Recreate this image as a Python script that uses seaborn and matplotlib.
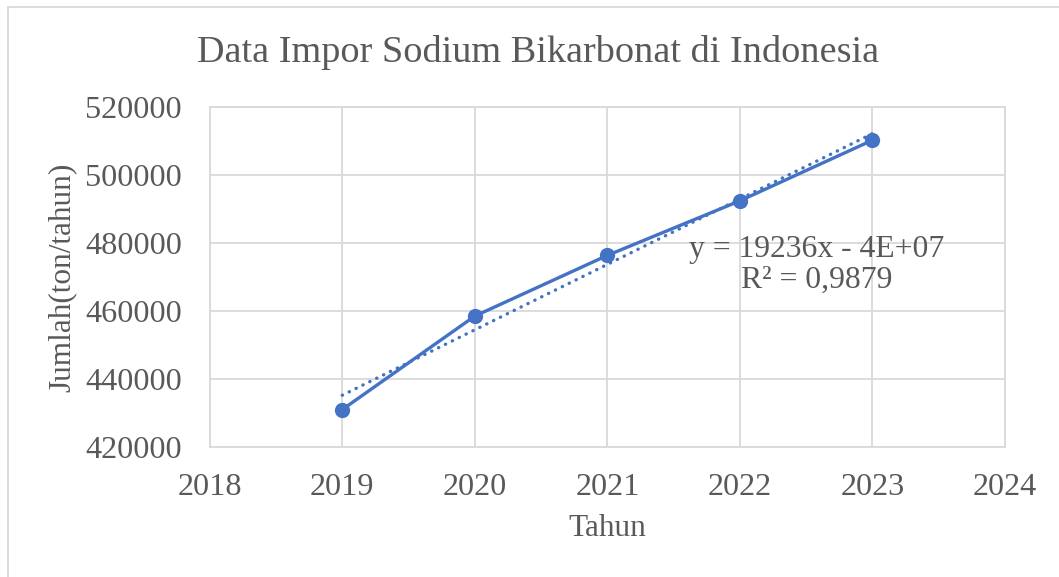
import numpy as np
import pandas as pd
import matplotlib.pyplot as plt
import seaborn as sns
from matplotlib.patches import Rectangle

tahun = [2019, 2020, 2021, 2022, 2023]
jumlah = [431000, 458500, 476350, 492400, 510230]
x_ticks = [2018, 2019, 2020, 2021, 2022, 2023, 2024]
y_ticks = [420000, 440000, 460000, 480000, 500000, 520000]

df = pd.DataFrame({"Tahun": tahun, "Jumlah": jumlah})

# linear trendline like Excel
slope, intercept = np.polyfit(df["Tahun"], df["Jumlah"], 1)
df["Trend"] = slope * df["Tahun"] + intercept
r2 = np.corrcoef(df["Tahun"], df["Jumlah"])[0, 1] ** 2

sns.set_style("white")
plt.rcParams["font.family"] = ["Liberation Serif", "DejaVu Serif"]
txt = "#595959"
grid = "#d9d9d9"
blue = "#4472C4"

fig = plt.figure(figsize=(10.59, 5.77), dpi=100)
ax = fig.add_axes([0.198, 0.2253, 0.751, 0.5893])

sns.lineplot(data=df, x="Tahun", y="Jumlah", ax=ax, color=blue, linewidth=2.4,
             marker="o", markersize=11, markeredgewidth=0)
sns.lineplot(data=df, x="Tahun", y="Trend", ax=ax, color=blue, linewidth=2.4,
             linestyle=(0, (0.1, 2.2)), dash_capstyle="round")

ax.set_xlim(2018, 2024)
ax.set_ylim(420000, 520000)
ax.set_xticks(x_ticks)
ax.set_yticks(y_ticks)
ax.grid(True, color=grid, linewidth=1.3)
ax.set_axisbelow(True)
for s in ax.spines.values():
    s.set_color(grid)
    s.set_linewidth(1.3)
ax.tick_params(length=0, labelsize=23.2, colors=txt)
ax.tick_params(axis="y", pad=20)
ax.tick_params(axis="x", pad=19)

ax.set_xlabel("Tahun", fontsize=22.5, color=txt, labelpad=8)
ax.set_ylabel("Jumlah(ton/tahun)", fontsize=22.5, color=txt, labelpad=6)
fig.text(538 / 1059, 1 - 52 / 577, "Data Impor Sodium Bikarbonat di Indonesia",
         fontsize=27.5, color=txt, ha="center", va="center")

eq = "y = %dx - 4E+07\nR² = %s" % (round(slope), ("%.4f" % r2).replace(".", ","))
ax.text(0.7635, 0.535, eq, transform=ax.transAxes, ha="center", va="center",
        fontsize=22.8, color=txt, linespacing=1.1)

fig.patches.append(Rectangle((8 / 1059, -0.05), 1.1, 1 - 7 / 577 + 0.05, transform=fig.transFigure,
                             fill=False, edgecolor=grid, linewidth=1.3))

plt.savefig("out.png", dpi=100)
